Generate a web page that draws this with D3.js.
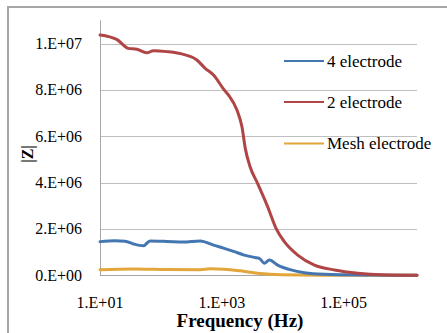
<!DOCTYPE html>
<html><head><meta charset="utf-8">
<script src="https://cdn.jsdelivr.net/npm/d3@7"></script>
<style>html,body{margin:0;padding:0;background:#fff;}svg{display:block;}</style>
</head><body>
<svg id="chart" width="447" height="333"></svg>
<script>
// Data (frequency in Hz, |Z| in ohm)
const seriesNames = ["4 electrode", "2 electrode", "Mesh electrode"];
const seriesColors = ["#4477B2", "#B04545", "#E2A63A"];
const xTicks = [1e1, 1e3, 1e5];
const xTickLabels = ["1.E+01", "1.E+03", "1.E+05"];
const yTicks = [0, 2e6, 4e6, 6e6, 8e6, 1e7];
const yTickLabels = ["0.E+00", "2.E+06", "4.E+06", "6.E+06", "8.E+06", "1.E+07"];

const freq4 = [10, 17.6, 25.8, 35.3, 51.5, 66.3, 125, 232, 441, 730, 1094, 1600, 2333, 3409, 4121, 4977, 6020, 8250, 13700, 22700, 48300, 189000, 1.6e6];
const z4 = [1.46e6, 1.50e6, 1.48e6, 1.36e6, 1.28e6, 1.49e6, 1.47e6, 1.44e6, 1.49e6, 1.31e6, 1.17e6, 1.03e6, 0.88e6, 0.78e6, 0.74e6, 0.53e6, 0.67e6, 0.45e6, 0.24e6, 0.12e6, 0.05e6, 0.02e6, 0.01e6];

const freq2 = [10, 18.8, 29.2, 40.1, 58.6, 75.4, 125, 234, 389, 533, 730, 1094, 1288, 1770, 2140, 2427, 2900, 3864, 5646, 7762, 10620, 17590, 33100, 70600, 170700, 414000, 1.6e6];
const z2 = [10.37e6, 10.18e6, 9.79e6, 9.75e6, 9.60e6, 9.69e6, 9.65e6, 9.53e6, 9.29e6, 8.93e6, 8.64e6, 8.0e6, 7.78e6, 7.13e6, 6.41e6, 5.48e6, 4.7e6, 3.97e6, 2.97e6, 2.03e6, 1.46e6, 0.88e6, 0.45e6, 0.24e6, 0.10e6, 0.03e6, 0.01e6];

const freqM = [10, 34.9, 125, 441, 644, 1094, 2009, 3864, 9380, 41500, 1.6e6];
const zM = [0.25e6, 0.28e6, 0.26e6, 0.25e6, 0.29e6, 0.27e6, 0.20e6, 0.10e6, 0.03e6, 0.01e6, 0.01e6];

const seriesFreq = [freq4, freq2, freqM];
const seriesZ = [z4, z2, zM];

const svg = d3.select("#chart");
const font = "'Liberation Serif','Times New Roman',serif";

// outer frame (cropped at right and bottom)
svg.append("rect").attr("x", 8).attr("y", 7).attr("width", 460).attr("height", 360)
  .attr("fill", "none").attr("stroke", "#a6a6a6").attr("stroke-width", 2);

const x = d3.scaleLog().domain([10, 1.6e6]).range([100, 417]);
const y = d3.scaleLinear().domain([0, 1.1e7]).range([275.5, 20.3]);

// gridlines
svg.append("g").selectAll("line").data(yTicks.slice(1)).join("line")
  .attr("x1", 100).attr("x2", 417)
  .attr("y1", d => Math.round(y(d)) + 0.5).attr("y2", d => Math.round(y(d)) + 0.5)
  .attr("stroke", "#bfbfbf").attr("stroke-width", 1);

// axes lines
svg.append("line").attr("x1", 100.5).attr("x2", 100.5).attr("y1", y(1.1e7)).attr("y2", y(0))
  .attr("stroke", "#a6a6a6");
svg.append("line").attr("x1", 100).attr("x2", 417).attr("y1", y(0)).attr("y2", y(0))
  .attr("stroke", "#a6a6a6");

// y tick labels
svg.append("g").selectAll("text").data(yTicks).join("text")
  .attr("x", 82).attr("y", d => y(d)).attr("dy", "0.33em")
  .attr("text-anchor", "end").attr("font-family", font).attr("font-size", 16)
  .text((d, i) => yTickLabels[i]);

// x tick labels
svg.append("g").selectAll("text").data(xTicks).join("text")
  .attr("x", d => x(d)).attr("y", 308)
  .attr("text-anchor", "middle").attr("font-family", font).attr("font-size", 16)
  .text((d, i) => xTickLabels[i]);

// axis titles
svg.append("text").attr("x", 240).attr("y", 327).attr("text-anchor", "middle")
  .attr("font-family", font).attr("font-size", 19).attr("font-weight", "bold")
  .text("Frequency (Hz)");
svg.append("text").attr("transform", "translate(27,154) rotate(-90)")
  .attr("text-anchor", "middle").attr("dominant-baseline", "central")
  .attr("font-family", font).attr("font-size", 16).attr("font-weight", "bold")
  .text("|Z|");

// lines
const line = d3.line().x(d => x(d[0])).y(d => y(d[1])).curve(d3.curveMonotoneX);
const drawOrder = [2, 0, 1];
drawOrder.forEach(i => {
  const pts = seriesFreq[i].map((f, k) => [f, seriesZ[i][k]]);
  svg.append("path").datum(pts).attr("d", line)
    .attr("fill", "none").attr("stroke", seriesColors[i]).attr("stroke-width", 3)
    .attr("stroke-linejoin", "round").attr("stroke-linecap", "round");
});

// legend
const legendY = [61, 102, 143.5];
seriesNames.forEach((name, i) => {
  svg.append("line").attr("x1", 284).attr("x2", 324).attr("y1", legendY[i]).attr("y2", legendY[i])
    .attr("stroke", seriesColors[i]).attr("stroke-width", 2);
  svg.append("text").attr("x", 327).attr("y", legendY[i]).attr("dy", "0.33em")
    .attr("font-family", font).attr("font-size", 17).text(name);
});
</script>
</body></html>
